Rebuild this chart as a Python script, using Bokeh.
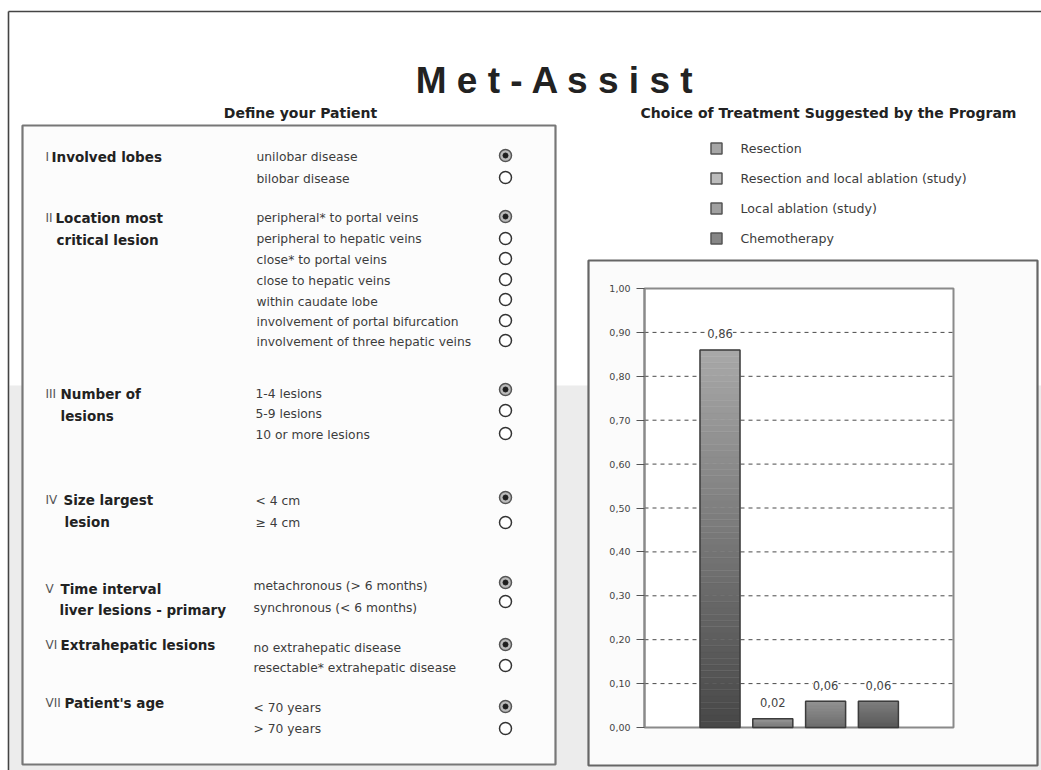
import numpy as np
from bokeh.plotting import figure
from bokeh.models import (Range1d, LinearAxis, FixedTicker, CustomJSTickFormatter,
                          LabelSet, ColumnDataSource)
from bokeh.core.properties import value
from bokeh.embed import file_html
from bokeh.resources import INLINE

# ---------------- data ----------------
treatments = ["Resection", "Resection and local ablation (study)",
              "Local ablation (study)", "Chemotherapy"]
probabilities = [0.86, 0.02, 0.06, 0.06]
y_ticks = [0.0, 0.1, 0.2, 0.3, 0.4, 0.5, 0.6, 0.7, 0.8, 0.9, 1.0]
grid_levels = [0.1, 0.2, 0.3, 0.4, 0.5, 0.6, 0.7, 0.8, 0.9]

title_text = "M e t - A s s i s t"
left_header = "Define your Patient"
right_header = "Choice of Treatment Suggested by the Program"

numerals = ["I", "II", "III", "IV", "V", "VI", "VII"]
headings = [["Involved lobes"],
            ["Location most", "critical lesion"],
            ["Number of", "lesions"],
            ["Size largest", "lesion"],
            ["Time interval", "liver lesions - primary"],
            ["Extrahepatic lesions"],
            ["Patient's age"]]
options = [["unilobar disease", "bilobar disease"],
           ["peripheral* to portal veins", "peripheral to hepatic veins",
            "close* to portal veins", "close to hepatic veins",
            "within caudate lobe", "involvement of portal bifurcation",
            "involvement of three hepatic veins"],
           ["1-4 lesions", "5-9 lesions", "10 or more lesions"],
           ["< 4 cm", "\u2265 4 cm"],
           ["metachronous (> 6 months)", "synchronous (< 6 months)"],
           ["no extrahepatic disease", "resectable* extrahepatic disease"],
           ["< 70 years", "> 70 years"]]
selected = [0, 0, 0, 0, 0, 0, 0]

# ---------------- layout (pixels) ----------------
W, H = 1041, 770
heading_x = [[51], [55, 56], [60, 60], [63, 64], [60, 59], [60], [64]]
heading_y = [[156], [217, 239], [393, 415], [499, 521], [588, 609], [644], [702]]
option_x = [256, 256, 255, 255, 253, 253, 253]
option_y = [[156, 178], [217, 238, 259, 280, 301, 321, 341], [393, 413, 434],
            [500, 522], [585, 607], [647, 667], [707, 728]]
radio_y = [[155, 177], [216, 238, 258, 279, 299, 320, 340], [389, 410, 433],
           [497, 522], [582, 601], [644, 665], [706, 728]]
radio_x = 505

# bar chart frame in pixels
FX0, FX1, FY_TOP, FY_BOT = 644, 953, 288, 727
BAR_C0, BAR_STEP, BAR_W = 719.5, 52.8, 40

p = figure(width=W, height=H, x_range=Range1d(0, W), y_range=Range1d(H, 0),
           output_backend="svg", toolbar_location=None, min_border=0,
           x_axis_type=None, y_axis_type=None)
p.outline_line_color = None
p.background_fill_color = "white"
p.border_fill_color = "white"

pix_per_unit = FY_BOT - FY_TOP
p.extra_y_ranges = {"by": Range1d(start=-(H - FY_BOT) / pix_per_unit,
                                  end=FY_BOT / pix_per_unit)}
p.extra_x_ranges = {"bx": Range1d(start=(0 - BAR_C0) / BAR_STEP,
                                  end=(W - BAR_C0) / BAR_STEP)}

# background
p.quad(left=[9], right=[W], top=[385], bottom=[H], fill_color="#ececec", line_color=None)
p.segment(x0=[8], x1=[W], y0=[11], y1=[11], line_color="#444444", line_width=1.6)
p.segment(x0=[8], x1=[8], y0=[11], y1=[H], line_color="#444444", line_width=1.6)

# title and headers
p.text(x=[555], y=[80], text=[title_text], text_font=value("Liberation Sans"),
       text_font_style="bold", text_font_size="37px", text_align="center",
       text_baseline="alphabetic", text_color="#222222")
p.text(x=[300, 828], y=[112, 112], text=[left_header, right_header],
       text_font=value("DejaVu Sans"), text_font_style="bold", text_font_size="14px",
       text_align="center", text_baseline="middle", text_color="#222222")

# panels
p.quad(left=[22], right=[555], top=[125], bottom=[764], fill_color="#fcfcfc",
       line_color="#777777", line_width=2.2)
p.quad(left=[588], right=[1037], top=[260], bottom=[765], fill_color="#fbfbfb",
       line_color="#666666", line_width=2.2)

# left panel contents
nx, ny, nt = [], [], []
hx, hy, ht = [], [], []
ox, oy, ot = [], [], []
rs_x, rs_y, ru_x, ru_y = [], [], [], []
for k in range(len(numerals)):
    nx.append(45); ny.append(heading_y[k][0]); nt.append(numerals[k])
    for j, line in enumerate(headings[k]):
        hx.append(heading_x[k][j]); hy.append(heading_y[k][j]); ht.append(line)
    for j, opt in enumerate(options[k]):
        ox.append(option_x[k]); oy.append(option_y[k][j]); ot.append(opt)
        if j == selected[k]:
            rs_x.append(radio_x); rs_y.append(radio_y[k][j])
        else:
            ru_x.append(radio_x); ru_y.append(radio_y[k][j])

p.text(x=nx, y=ny, text=nt, text_font=value("DejaVu Sans"), text_font_size="12px",
       text_align="left", text_baseline="middle", text_color="#555555")
p.text(x=hx, y=hy, text=ht, text_font=value("DejaVu Sans"), text_font_style="bold",
       text_font_size="13.5px", text_align="left", text_baseline="middle",
       text_color="#222222")
p.text(x=ox, y=oy, text=ot, text_font=value("DejaVu Sans"), text_font_size="12.3px",
       text_align="left", text_baseline="middle", text_color="#3c3c3c")
p.scatter(x=ru_x, y=ru_y, size=12, marker="circle", fill_color="white",
          line_color="#333333", line_width=1.5)
p.scatter(x=rs_x, y=rs_y, size=12, marker="circle", fill_color="#bbbbbb",
          line_color="#555555", line_width=1.5)
p.scatter(x=rs_x, y=rs_y, size=5, marker="circle", fill_color="#1e1e1e",
          line_color="#1e1e1e")

# legend
legend_y = [148, 178, 208, 238]
legend_fill = ["#a6a6a6", "#bcbcbc", "#a0a0a0", "#868686"]
p.scatter(x=[716] * len(treatments), y=legend_y, size=11, marker="square",
          fill_color=legend_fill, line_color="#555555", line_width=1.5)
p.text(x=[740] * len(treatments), y=legend_y, text=treatments,
       text_font=value("DejaVu Sans"), text_font_size="12.6px", text_align="left",
       text_baseline="middle", text_color="#3c3c3c")

# bar chart frame
p.quad(left=[FX0], right=[FX1], top=[FY_TOP], bottom=[FY_BOT], fill_color="white",
       line_color="#8a8a8a", line_width=2)
p.segment(x0=[FX0] * len(grid_levels), x1=[FX1] * len(grid_levels),
          y0=grid_levels, y1=grid_levels, y_range_name="by",
          line_color="#4a4a4a", line_width=1, line_dash="4 4")

# gradient bars
top_rgb = [(168, 168, 168), (152, 152, 152), (146, 146, 146), (126, 126, 126)]
bot_rgb = [(72, 72, 72), (122, 122, 122), (108, 108, 108), (88, 88, 88)]
idx = list(range(len(treatments)))
bw = BAR_W / BAR_STEP
N = 60
for i, v in zip(idx, probabilities):
    edges = np.linspace(0, v, N + 1)
    t = np.linspace(0, 1, N)
    cols = []
    for tt in t:
        c = [int(b + (a - b) * tt) for a, b in zip(top_rgb[i], bot_rgb[i])]
        cols.append("#%02x%02x%02x" % tuple(c))
    p.quad(left=i - bw / 2, right=i + bw / 2, bottom=edges[:-1], top=edges[1:],
           fill_color=cols, line_color=cols, line_width=0.5,
           x_range_name="bx", y_range_name="by")
p.quad(left=[i - bw / 2 for i in idx], right=[i + bw / 2 for i in idx],
       bottom=[0] * len(idx), top=probabilities, fill_color=None,
       line_color="#3c3c3c", line_width=1.5, x_range_name="bx", y_range_name="by")

labels = ColumnDataSource(dict(x=idx, y=probabilities,
                               t=[("%.2f" % v).replace(".", ",") for v in probabilities]))
p.add_layout(LabelSet(x="x", y="y", text="t", source=labels, x_range_name="bx",
                      y_range_name="by", y_offset=16, text_align="center",
                      text_baseline="middle", text_font=value("DejaVu Sans"),
                      text_font_size="11.5px", text_color="#444444",
                      background_fill_color="white"))

yax = LinearAxis(y_range_name="by", fixed_location=FX0, bounds=(0, 1),
                 ticker=FixedTicker(ticks=y_ticks),
                 formatter=CustomJSTickFormatter(code="return tick.toFixed(2).replace('.', ',');"))
yax.axis_line_color = "#8a8a8a"
yax.axis_line_width = 2
yax.major_tick_line_color = "#555555"
yax.major_tick_out = 8
yax.major_tick_in = 0
yax.minor_tick_line_color = None
yax.major_label_text_font = "DejaVu Sans"
yax.major_label_text_font_size = "9.5px"
yax.major_label_text_color = "#444444"
yax.major_label_standoff = 6
p.add_layout(yax, "left")

open("out.html", "w").write(file_html(p, INLINE))
